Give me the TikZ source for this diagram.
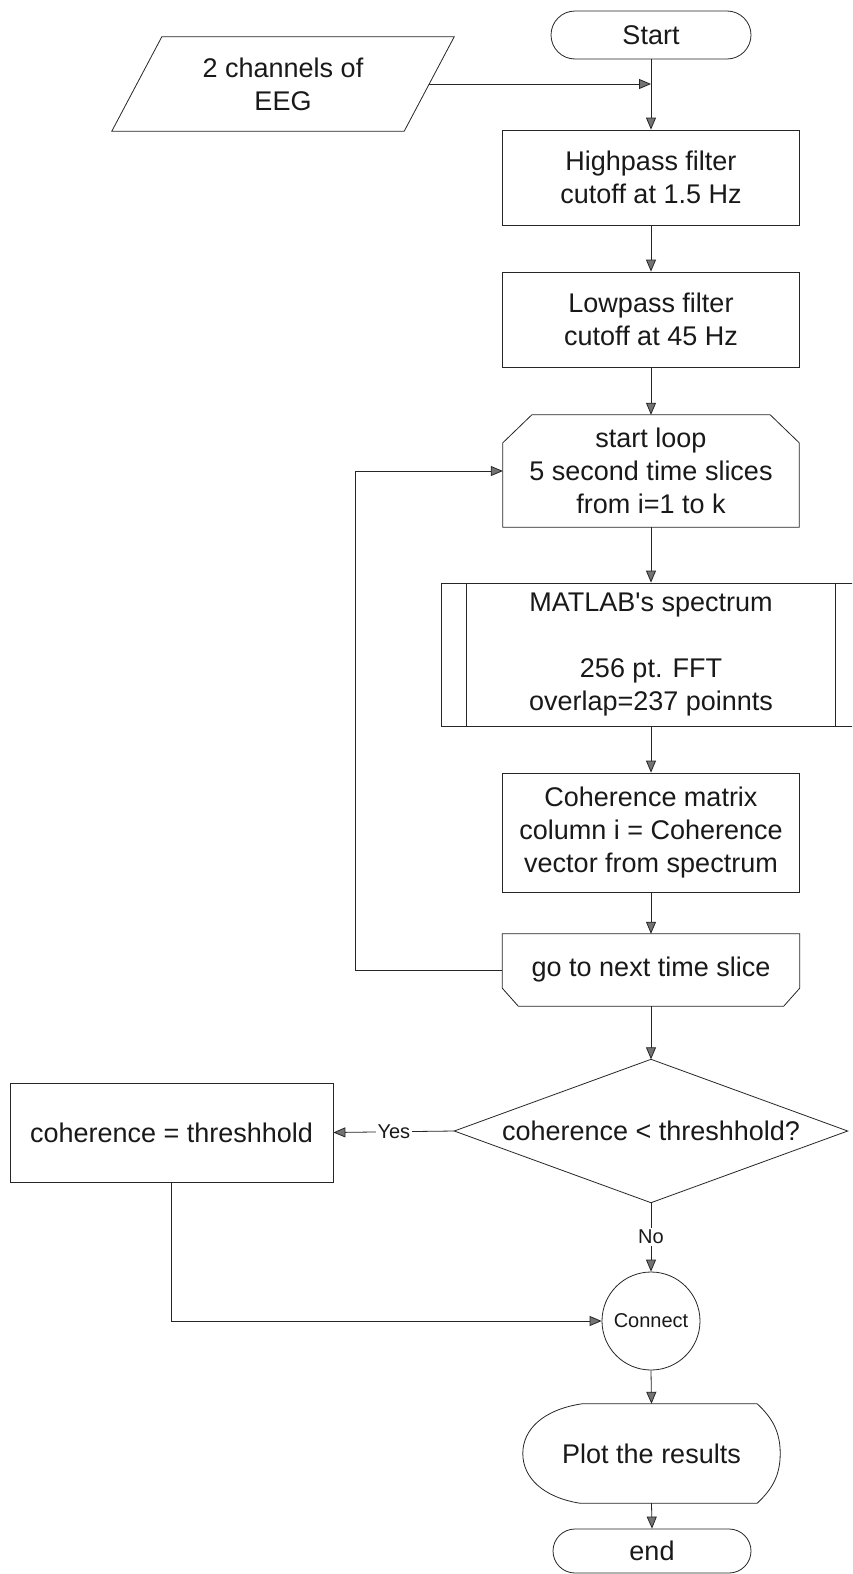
\documentclass[tikz,border=0pt]{standalone}
\usepackage{fontspec}
\setmainfont{Liberation Sans}[Ligatures=TeXOff]
\usetikzlibrary{arrows.meta,shapes.geometric,calc}
\begin{document}
\begin{tikzpicture}[x=1pt,y=-1pt,
  line/.style={draw=black!85, line width=0.8pt},
  arr/.style={line, -{Triangle[length=12pt,width=10pt,fill=black!55]}},
  box/.style={draw=black!85, line width=0.8pt, minimum width=297pt, align=center, inner sep=0pt, text=black!90},
  ghost/.style={align=center, inner sep=0pt, text=black!90},
  lbl/.style={font=\fontsize{20}{24}\selectfont, fill=white, inner sep=2pt, text=black!90},
  shp/.style={draw=black!85, line width=0.8pt},
  font=\fontsize{27}{33}\selectfont]
\clip (0,0) rectangle (852,1574);
\fill[white] (0,0) rectangle (852,1574);

% nodes
\node[box, rounded corners=24pt, minimum width=200pt, minimum height=48pt] (start) at (651,35) {Start};
\node[ghost, minimum width=292pt, minimum height=94pt] (eeg) at (283,84) {2 channels of\\EEG};
\draw[shp] ($(eeg.north west)+(25,0)$) -- ($(eeg.north east)+(25,0)$) -- ($(eeg.south east)+(-25,0)$) -- ($(eeg.south west)+(-25,0)$) -- cycle;
\coordinate (j) at (start.south |- eeg.east);

\node[box, minimum height=95pt] (high) at (651,177.5) {Highpass filter\\cutoff at 1.5 Hz};
\node[box, minimum height=95pt] (low) at (651,319.5) {Lowpass filter\\cutoff at 45 Hz};

\node[ghost, minimum width=296pt, minimum height=112pt] (loop) at (651,471) {start loop\\5 second time slices\\from i=1 to k};
\draw[shp] (loop.south west) -- ($(loop.north west)+(0,28)$) -- ($(loop.north west)+(29,0)$) -- ($(loop.north east)+(-29,0)$) -- ($(loop.north east)+(0,28)$) -- (loop.south east) -- cycle;

\node[box, minimum width=420pt, minimum height=143pt] (matlab) at (651,654.5) {MATLAB's spectrum\\\mbox{}\\256 pt. FFT\\overlap=237 poinnts};
\draw[shp] ($(matlab.north west)+(26,0)$) -- ($(matlab.south west)+(26,0)$);
\draw[shp] ($(matlab.north east)+(-26,0)$) -- ($(matlab.south east)+(-26,0)$);

\node[box, minimum height=119pt] (coh) at (651,832.5) {Coherence matrix\\column i = Coherence\\vector from spectrum};

\node[ghost, minimum width=297pt, minimum height=72pt] (next) at (651,970) {go to next time slice};
\draw[shp] (next.north west) -- (next.north east) -- ($(next.south east)+(0,-18)$) -- ($(next.south east)+(-16,0)$) -- ($(next.south west)+(16,0)$) -- ($(next.south west)+(0,-18)$) -- cycle;
\coordinate (lp) at (355,970);

\node[ghost, minimum width=393pt, minimum height=143pt] (dec) at (651,1131) {coherence < threshhold?};
\draw[shp] (dec.north) -- (dec.east) -- (dec.south) -- (dec.west) -- cycle;
\node[box, minimum width=323pt, minimum height=99pt] (cohset) at (171.5,1132.5) {coherence = threshhold};

\node[circle, draw=black!85, line width=0.8pt, minimum size=98pt, inner sep=0pt, text=black!90, font=\fontsize{20}{24}\selectfont] (conn) at (651,1321) {Connect};

\node[ghost, minimum width=257pt, minimum height=99pt] (plot) at (651.5,1453.5) {Plot the results};
\draw[shp] ($(plot.north west)+(59,0)$) -- ($(plot.north east)+(-23,0)$)
  .. controls ($(plot.north east)+(-8,14)$) and ($(plot.east)+(0,-22)$) .. (plot.east)
  .. controls ($(plot.east)+(0,22)$) and ($(plot.south east)+(-8,-14)$) .. ($(plot.south east)+(-23,0)$)
  -- ($(plot.south west)+(57,0)$)
  .. controls ($(plot.south west)+(20,-6)$) and ($(plot.west)+(0,24)$) .. (plot.west)
  .. controls ($(plot.west)+(0,-24)$) and ($(plot.north west)+(20,6)$) .. ($(plot.north west)+(59,0)$) -- cycle;

\node[box, rounded corners=22pt, minimum width=198pt, minimum height=44pt] (fin) at (652,1551) {end};

% connectors
\draw[arr] (start.south) -- (high.north);
\draw[arr] (eeg.east) -- (j);
\draw[arr] (high.south) -- (low.north);
\draw[arr] (low.south) -- (loop.north);
\draw[arr] (loop.south) -- (matlab.north);
\draw[arr] (matlab.south) -- (coh.north);
\draw[arr] (coh.south) -- (next.north);
\draw[arr] (next.south) -- (dec.north);
\draw[arr] (next.west) -- (lp) |- (loop.west);
\draw[arr] (dec.west) -- node[lbl]{Yes} (cohset.east);
\draw[arr] (dec.south) -- node[lbl]{No} (conn.north);
\draw[arr] (cohset.south) |- (conn.west);
\draw[arr] (conn.south) -- (plot.north);
\draw[arr] (plot.south) -- (fin.north);
\end{tikzpicture}
\end{document}
